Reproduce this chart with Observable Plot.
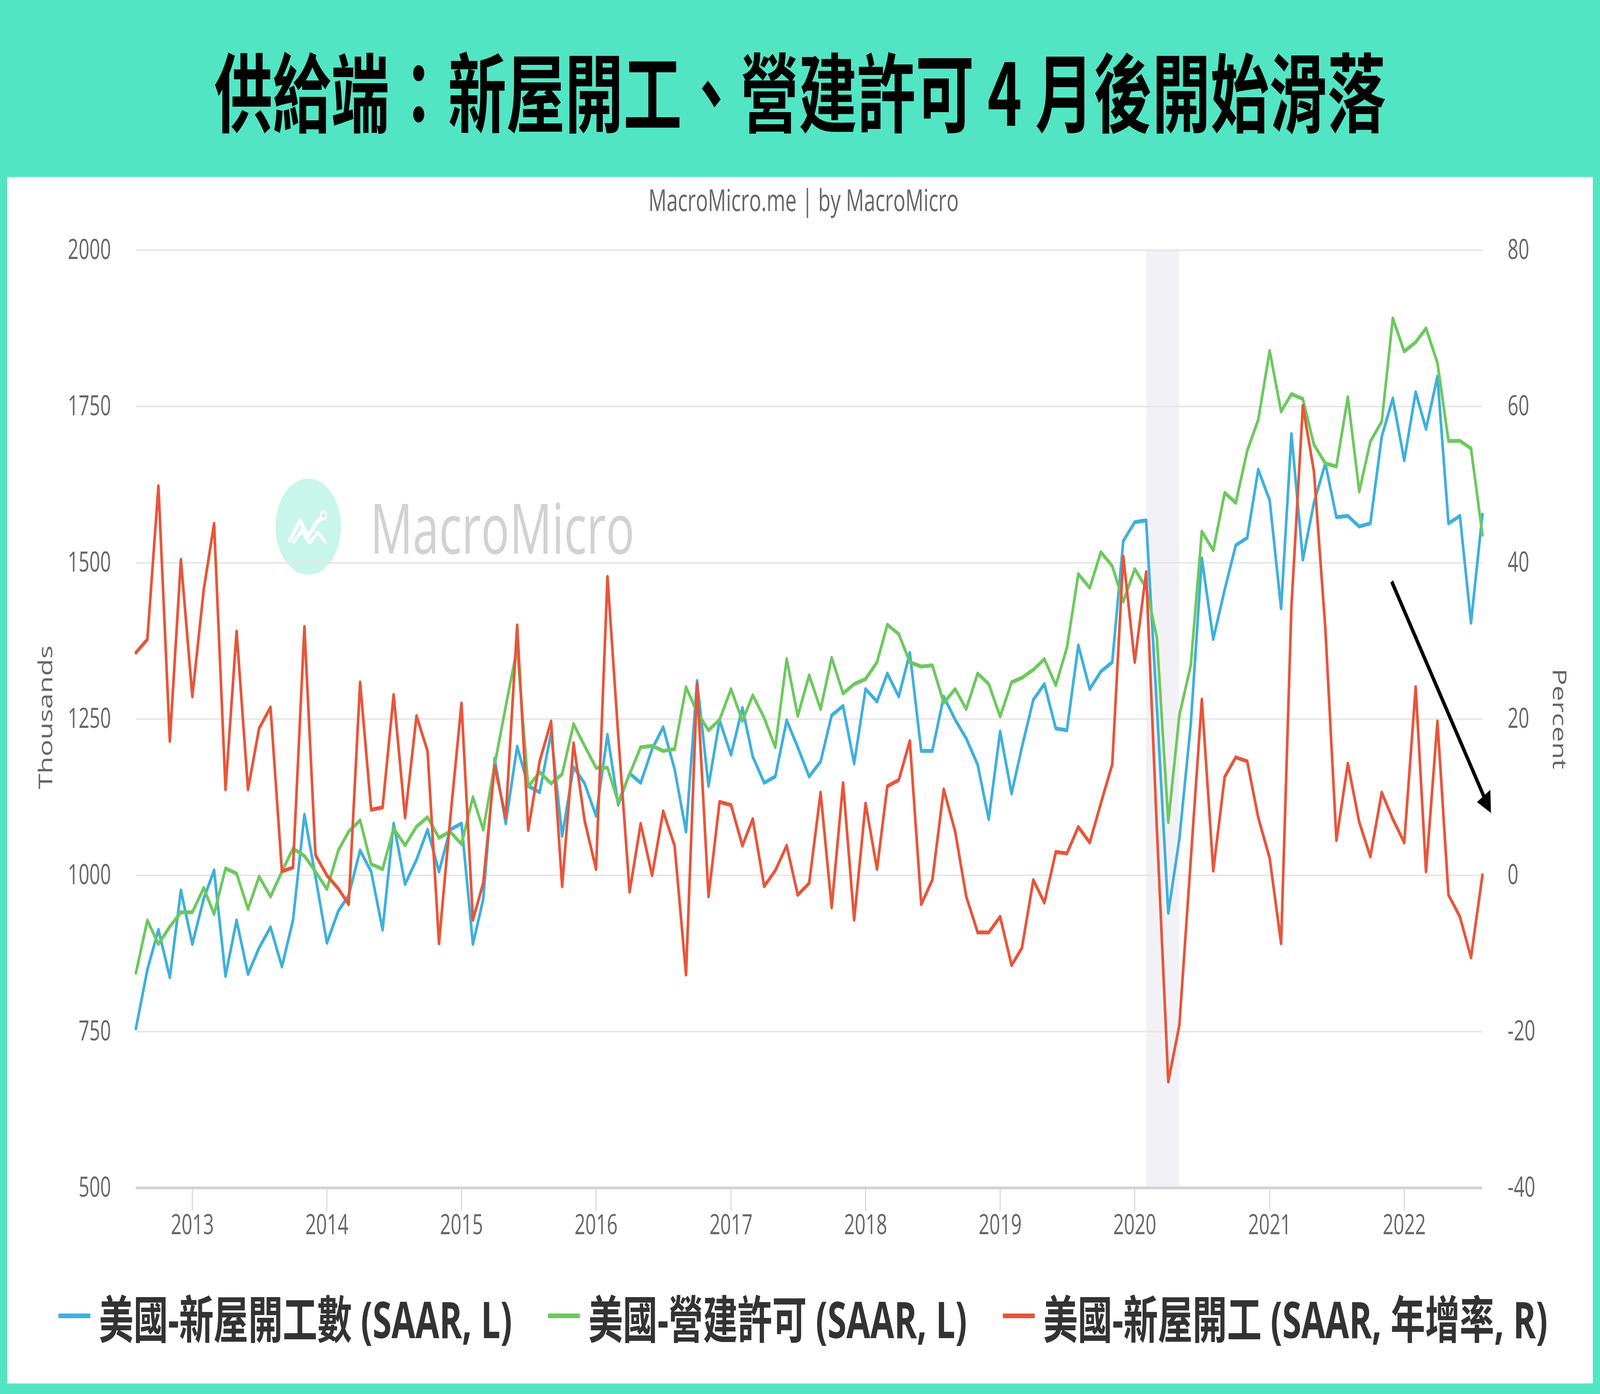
<!DOCTYPE html>
<html>
<head>
<meta charset="utf-8">
<script src="https://cdn.jsdelivr.net/npm/d3@7"></script>
<script src="https://cdn.jsdelivr.net/npm/@observablehq/plot@0.6"></script>
<style>
  html, body { margin: 0; padding: 0; background: #52e5c3; overflow: hidden; }
  #wrap { width: 6021px; height: 3568px; background: #52e5c3; position: absolute; left: 0; top: 0; overflow: hidden; font-family: "Open Sans", sans-serif; transform-origin: 0 0; }
  #title { position: absolute; left: 0; top: 0; width: 6021px; height: 452px; display: flex; align-items: center; justify-content: center; font-family: "Noto Sans CJK TC", sans-serif; font-weight: 700; font-size: 220px; color: #000; white-space: pre; }
  #panel { position: absolute; left: 27px; top: 453px; width: 5967px; height: 3088px; background: #fff; }
  #subtitle { position: absolute; left: 0; width: 6048px; top: 472px; line-height: 78px; text-align: center; font-size: 76px; color: #666; }
  #wm { position: absolute; left: 1037px; top: 1225px; height: 246px; display: flex; align-items: center; }
  #wm .logo { width: 246px; height: 246px; border-radius: 50%; background: #c9f6ea; display: flex; align-items: center; justify-content: center; }
  #wm .txt { margin-left: 110px; font-size: 178px; color: #d2d2d2; line-height: 1; }
  .ylab { position: absolute; font-size: 72px; color: #666; white-space: nowrap; line-height: 1; }
  #chart { position: absolute; left: 0; top: 452px; width: 6021px; }
  #legend { position: absolute; left: 0; width: 6044px; top: 3288px; height: 160px; display: flex; align-items: center; justify-content: center; gap: 135px; font-family: "Open Sans", "Noto Sans CJK TC", sans-serif; font-weight: 700; font-size: 130px; color: #333; white-space: nowrap; }
  #legend .item { display: flex; align-items: center; }
  #legend .sw { display: inline-block; width: 120px; height: 12px; margin-right: 32px; }
</style>
</head>
<body>
<div id="wrap">
<div id="title">供給端：新屋開工、營建許可 4 月後開始滑落</div>
<div id="panel"></div>
<div id="subtitle">MacroMicro.me | by MacroMicro</div>
<div id="wm">
  <div class="logo">
    <svg width="150" height="90" viewBox="0 0 150 90">
      <polyline points="5,80 45,30 75,70 105,35 140,15" fill="none" stroke="#fff" stroke-width="12" stroke-linejoin="round" stroke-linecap="round"/>
      <polyline points="20,85 50,55 80,88 110,60 140,85" fill="none" stroke="#fff" stroke-width="10" stroke-linejoin="round" stroke-linecap="round"/>
      <circle cx="132" cy="16" r="10" fill="#c9f6ea" stroke="#fff" stroke-width="6"/>
    </svg>
  </div>
  <div class="txt">MacroMicro</div>
</div>
<div class="ylab" id="ylabL" style="left:169px; top:1836px; transform: translate(-50%,-50%) rotate(-90deg);">Thousands</div>
<div class="ylab" id="ylabR" style="left:5871px; top:1840px; transform: translate(-50%,-50%) rotate(90deg);">Percent</div>
<div id="chart"></div>
<div id="legend"></div>
</div>
<script>
// ---- Data (monthly, Aug 2012 – Aug 2022) ----
const startMonth = "2012-08-01";
const endMonth = "2022-08-01";

// 美國-新屋開工數 (SAAR, thousands, left axis)
const housingStarts = [
  755, 849, 913, 837, 976, 890, 963, 1008, 839, 928, 842, 884,
  917, 854, 928, 1097, 998, 892, 943, 968, 1040, 1006, 913, 1083,
  986, 1025, 1073, 1006, 1073, 1083, 890, 962, 1187, 1083, 1206, 1143,
  1133, 1228, 1063, 1173, 1147, 1095, 1225, 1113, 1163, 1148, 1202, 1237,
  1170, 1070, 1311, 1143, 1248, 1193, 1268, 1190, 1148, 1158, 1248, 1205,
  1158, 1182, 1256, 1271, 1179, 1298, 1278, 1323, 1286, 1356, 1199, 1199,
  1286, 1249, 1219, 1177, 1090, 1230, 1131, 1205, 1281, 1306, 1235, 1232,
  1368, 1298, 1326, 1341, 1535, 1565, 1568, 1270, 940, 1058, 1242, 1507,
  1378, 1457, 1528, 1540, 1649, 1600, 1427, 1706, 1505, 1596, 1659, 1573,
  1575, 1558, 1563, 1702, 1763, 1664, 1773, 1714, 1798, 1563, 1575, 1404,
  1577
];

// 美國-營建許可 (SAAR, thousands, left axis)
const buildingPermits = [
  844, 928, 890, 918, 941, 941, 980, 938, 1011, 1003, 946, 998,
  966, 1006, 1043, 1031, 1006, 978, 1040, 1070, 1088, 1018, 1010, 1075,
  1048, 1078, 1093, 1060, 1070, 1050, 1125, 1073, 1177, 1270, 1364, 1142,
  1165, 1147, 1162, 1242, 1207, 1172, 1172, 1117, 1162, 1205, 1207, 1199,
  1202, 1301, 1261, 1232, 1249, 1298, 1247, 1288, 1252, 1205, 1346, 1255,
  1320, 1266, 1348, 1291, 1306, 1314, 1341, 1401, 1386, 1341, 1334, 1336,
  1276, 1298, 1266, 1323, 1306, 1254, 1309, 1316, 1329, 1346, 1304, 1364,
  1482, 1460, 1517, 1495, 1438, 1490, 1460, 1381, 1085, 1256, 1336, 1550,
  1520, 1612, 1596, 1679, 1729, 1839, 1742, 1770, 1762, 1689, 1659, 1654,
  1765, 1614, 1694, 1726, 1891, 1838, 1853, 1875, 1820, 1695, 1695, 1683,
  1545
];

// 美國-新屋開工 (SAAR, 年增率 %, right axis)
const startsYoY = [
  28.5, 30.2, 49.8, 17.2, 40.4, 22.9, 36.6, 45.0, 11.0, 31.2, 11.0, 18.8,
  21.5, 0.5, 1.0, 31.8, 2.6, 0.0, -1.7, -3.7, 24.7, 8.4, 8.7, 23.1,
  7.4, 20.4, 15.9, -8.7, 7.0, 22.0, -5.7, -1.0, 14.0, 7.4, 32.0, 5.8,
  14.6, 19.7, -1.4, 16.9, 7.0, 0.8, 38.2, 18.0, -2.1, 6.6, 0.0, 8.2,
  3.8, -12.7, 24.5, -2.7, 9.4, 9.0, 3.8, 7.2, -1.4, 0.6, 3.8, -2.5,
  -1.0, 10.6, -4.1, 11.8, -5.7, 9.2, 0.8, 11.4, 12.2, 17.2, -3.7, -0.6,
  11.0, 5.6, -2.7, -7.3, -7.3, -5.3, -11.5, -9.3, -0.6, -3.5, 3.0, 2.8,
  6.2, 4.2, 9.2, 14.2, 40.8, 27.3, 38.8, 6.0, -26.4, -19.2, 2.0, 22.5,
  0.6, 12.6, 15.1, 14.6, 7.4, 2.2, -8.7, 34.4, 60.1, 51.7, 31.6, 4.5,
  14.3, 6.8, 2.4, 10.6, 7.2, 4.2, 24.1, 0.5, 19.7, -2.5, -5.3, -10.5,
  0.0
];

// Axes
const leftTicks = [500, 750, 1000, 1250, 1500, 1750, 2000];
const leftDomain = [500, 2000];
const rightDomain = [-40, 80];
const yearTicks = ["2013","2014","2015","2016","2017","2018","2019","2020","2021","2022"];

// Recession shading (2020)
const recession = [{ start: "2020-02-01", end: "2020-05-01" }];

// Annotation arrow
const arrowNote = [{ from: "2021-11-28", fromY: 1470, to: "2022-08-11", toY: 1118 }];

// Legend
const seriesNames = ["美國-新屋開工數 (SAAR, L)", "美國-營建許可 (SAAR, L)", "美國-新屋開工 (SAAR, 年增率, R)"];
const seriesColors = ["#3eb0dc", "#6cc95d", "#e8553a"];

// ---- Fit the 6021×3568 design to the actual viewport ----
const DESIGN_W = 6021, DESIGN_H = 3568;
const vw = window.innerWidth || DESIGN_W, vh = window.innerHeight || DESIGN_H;
const sx = vw / DESIGN_W, sy = vh / DESIGN_H;
const wrap = document.getElementById("wrap");
wrap.style.transform = `scale(${sx}, ${sy})`;
document.documentElement.style.width = vw + "px";
document.documentElement.style.height = vh + "px";
document.body.style.width = vw + "px";
document.body.style.height = vh + "px";

// ---- Build ----
const parse = s => new Date(s + "T00:00:00Z");
const dates = d3.utcMonth.range(parse(startMonth), d3.utcMonth.offset(parse(endMonth), 1));
const rightToLeft = p => leftDomain[0] + (p - rightDomain[0]) * (leftDomain[1] - leftDomain[0]) / (rightDomain[1] - rightDomain[0]);
const leftToRight = v => rightDomain[0] + (v - leftDomain[0]) * (rightDomain[1] - rightDomain[0]) / (leftDomain[1] - leftDomain[0]);

const startsData = dates.map((d, i) => ({ date: d, v: housingStarts[i] }));
const permitsData = dates.map((d, i) => ({ date: d, v: buildingPermits[i] }));
const yoyData = dates.map((d, i) => ({ date: d, v: rightToLeft(startsYoY[i]) }));
const recData = recession.map(r => ({ x1: parse(r.start), x2: parse(r.end) }));
const arrowData = arrowNote.map(a => ({ x1: parse(a.from), y1: a.fromY, x2: parse(a.to), y2: a.toY }));
const yearDates = yearTicks.map(y => parse(y + "-01-01"));

const W = 6021, H = 2800;
const mL = 511, mR = W - 5578, mT = 640 - 452, mB = H - (3040 - 452);

// screen-space angle of the arrow (for the arrowhead rotation)
const xs = d3.scaleUtc([dates[0], dates[dates.length - 1]], [mL, W - mR]);
const ys = d3.scaleLinear(leftDomain, [H - mB, mT]);
const a0 = arrowData[0];
const adx = xs(a0.x2) - xs(a0.x1), ady = ys(a0.y2) - ys(a0.y1);
const angle = Math.atan2(adx, -ady) * 180 / Math.PI;

const chart = Plot.plot({
  width: W,
  height: H,
  marginLeft: mL,
  marginRight: mR,
  marginTop: mT,
  marginBottom: mB,
  x: { type: "utc", domain: [dates[0], dates[dates.length - 1]] },
  y: { domain: leftDomain },
  style: { fontFamily: "Open Sans", fontSize: "71px", color: "#666", background: "transparent", overflow: "visible", maxWidth: "none" },
  marks: [
    Plot.rect(recData, { x1: "x1", x2: "x2", y1: leftDomain[0], y2: leftDomain[1], fill: "#f2f2f6" }),
    Plot.ruleY(leftTicks.filter(t => t !== leftDomain[0]), { stroke: "#e6e6e6", strokeWidth: 4 }),
    Plot.axisY(leftTicks, { anchor: "left", tickSize: 0, tickPadding: 94, tickFormat: d => String(d), fill: "#666" }),
    Plot.axisY(leftTicks, { anchor: "right", tickSize: 0, tickPadding: 95, tickFormat: d => String(Math.round(leftToRight(d))), fill: "#666" }),
    Plot.axisX(yearDates, { tickSize: 60, tickPadding: 8, tickFormat: d3.utcFormat("%Y"), stroke: "#cccccc", strokeWidth: 3, fill: "#666" }),
    Plot.ruleY([leftDomain[0]], { stroke: "#d2d2d8", strokeWidth: 7 }),
    Plot.lineY(startsData, { x: "date", y: "v", stroke: seriesColors[0], strokeWidth: 10 }),
    Plot.lineY(permitsData, { x: "date", y: "v", stroke: seriesColors[1], strokeWidth: 10 }),
    Plot.lineY(yoyData, { x: "date", y: "v", stroke: seriesColors[2], strokeWidth: 10 }),
    Plot.link(arrowData, { x1: "x1", y1: "y1", x2: "x2", y2: "y2", stroke: "#000", strokeWidth: 12 }),
    Plot.dot(arrowData, { x: "x2", y: "y2", symbol: "triangle", r: 22, fill: "#000", rotate: angle })
  ]
});
document.getElementById("chart").appendChild(chart);

// Legend
const legend = document.getElementById("legend");
seriesNames.forEach((name, i) => {
  const item = document.createElement("div");
  item.className = "item";
  const sw = document.createElement("span");
  sw.className = "sw";
  sw.style.background = seriesColors[i];
  const t = document.createElement("span");
  t.textContent = name;
  item.appendChild(sw);
  item.appendChild(t);
  legend.appendChild(item);
});
</script>
</body>
</html>
